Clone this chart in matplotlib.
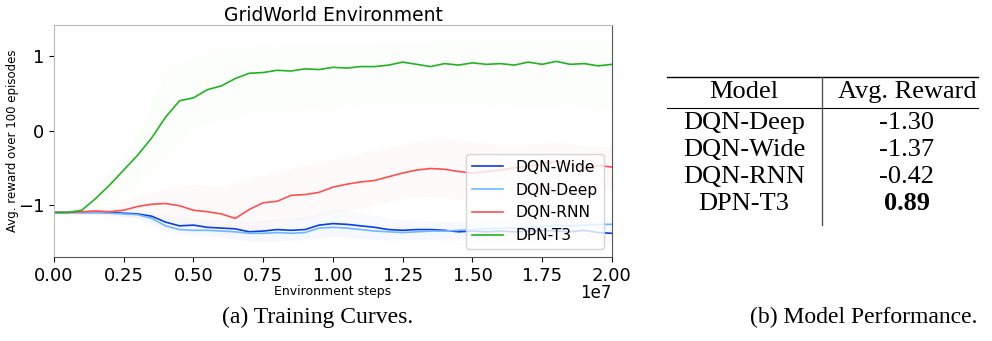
import matplotlib.pyplot as plt
import numpy as np

# environment steps (units of 1e6) for the mean curves and for the bands
steps = np.arange(0, 20.5, 0.5) * 1e6
band_steps = np.arange(0, 21, 1.0) * 1e6

dpn_t3 = [-1.10, -1.10, -1.07, -0.91, -0.73, -0.53, -0.33, -0.10, 0.18, 0.40,
          0.44, 0.55, 0.60, 0.70, 0.77, 0.78, 0.81, 0.80, 0.83, 0.82,
          0.85, 0.84, 0.86, 0.86, 0.88, 0.92, 0.89, 0.86, 0.90, 0.88,
          0.91, 0.89, 0.90, 0.88, 0.92, 0.89, 0.93, 0.89, 0.90, 0.87, 0.89]
dpn_t3_hi = [-1.08, -1.02, -0.55, -0.05, 0.80, 1.00, 1.08, 1.12, 1.15, 1.17, 1.17,
             1.16, 1.18, 1.18, 1.19, 1.19, 1.20, 1.20, 1.21, 1.20, 1.20]
dpn_t3_lo = [-1.12, -1.10, -0.98, -0.75, -0.30, 0.00, 0.15, 0.22, 0.28, 0.30, 0.32,
             0.35, 0.37, 0.38, 0.36, 0.37, 0.33, 0.35, 0.34, 0.32, 0.30]

dqn_rnn = [-1.10, -1.10, -1.09, -1.08, -1.09, -1.07, -1.02, -0.99, -0.98, -1.01,
           -1.07, -1.09, -1.12, -1.18, -1.06, -0.97, -0.95, -0.87, -0.86, -0.83,
           -0.76, -0.72, -0.69, -0.67, -0.62, -0.57, -0.53, -0.51, -0.52, -0.55,
           -0.57, -0.55, -0.53, -0.50, -0.48, -0.45, -0.41, -0.46, -0.50, -0.47, -0.49]
dqn_rnn_hi = [-1.08, -1.06, -1.02, -0.85, -0.78, -0.72, -0.75, -0.65, -0.55, -0.45, -0.38,
              -0.30, -0.22, -0.15, -0.10, -0.15, -0.18, -0.18, -0.15, -0.20, -0.22]
dqn_rnn_lo = [-1.12, -1.12, -1.16, -1.18, -1.20, -1.30, -1.40, -1.38, -1.25, -1.20, -1.10,
              -1.05, -0.95, -0.88, -0.90, -0.95, -0.90, -0.85, -0.80, -0.80, -0.78]

dqn_wide = [-1.10, -1.10, -1.10, -1.10, -1.10, -1.11, -1.12, -1.15, -1.23, -1.28,
            -1.27, -1.30, -1.31, -1.32, -1.36, -1.35, -1.33, -1.34, -1.33, -1.27,
            -1.25, -1.26, -1.28, -1.30, -1.33, -1.34, -1.33, -1.33, -1.34, -1.36,
            -1.35, -1.36, -1.35, -1.36, -1.35, -1.34, -1.35, -1.36, -1.34, -1.37, -1.38]
dqn_wide_hi = [-1.08, -1.08, -1.08, -1.07, -1.12, -1.18, -1.20, -1.22, -1.18, -1.15, -1.05,
               -1.10, -1.18, -1.20, -1.22, -1.22, -1.20, -1.22, -1.20, -1.22, -1.24]
dqn_wide_lo = [-1.12, -1.12, -1.13, -1.17, -1.35, -1.40, -1.43, -1.48, -1.48, -1.47, -1.42,
               -1.45, -1.47, -1.46, -1.47, -1.48, -1.48, -1.48, -1.49, -1.49, -1.50]

dqn_deep = [-1.10, -1.10, -1.10, -1.10, -1.11, -1.12, -1.13, -1.18, -1.28, -1.33,
            -1.34, -1.34, -1.35, -1.36, -1.38, -1.38, -1.37, -1.38, -1.37, -1.31,
            -1.30, -1.31, -1.33, -1.35, -1.36, -1.37, -1.36, -1.35, -1.35, -1.34,
            -1.33, -1.32, -1.31, -1.31, -1.30, -1.29, -1.27, -1.28, -1.27, -1.26, -1.26]
dqn_deep_hi = [-1.08, -1.08, -1.09, -1.08, -1.18, -1.24, -1.25, -1.28, -1.27, -1.22, -1.20,
               -1.24, -1.26, -1.25, -1.24, -1.22, -1.20, -1.19, -1.17, -1.16, -1.16]
dqn_deep_lo = [-1.12, -1.12, -1.13, -1.18, -1.38, -1.44, -1.45, -1.48, -1.48, -1.45, -1.42,
               -1.45, -1.47, -1.46, -1.45, -1.43, -1.42, -1.40, -1.38, -1.37, -1.36]

models = ['DQN-Deep', 'DQN-Wide', 'DQN-RNN', 'DPN-T3']
avg_rewards = ['-1.30', '-1.37', '-0.42', '0.89']

fig = plt.figure(figsize=(9.92, 3.41), dpi=100)
ax = fig.add_axes([0.0544, 0.246, 0.5625, 0.681])

series = [
    ('DQN-Wide', dqn_wide, dqn_wide_lo, dqn_wide_hi, '#0a3ee0', 0.025),
    ('DQN-Deep', dqn_deep, dqn_deep_lo, dqn_deep_hi, '#70b8ff', 0.025),
    ('DQN-RNN', dqn_rnn, dqn_rnn_lo, dqn_rnn_hi, '#ff5050', 0.025),
    ('DPN-T3', dpn_t3, dpn_t3_lo, dpn_t3_hi, '#22b322', 0.012),
]
for name, mean, lo, hi, col, a in series:
    ax.fill_between(band_steps, lo, hi, color=col, alpha=a, linewidth=0)
for name, mean, lo, hi, col, a in series:
    ax.plot(steps, mean, color=col, lw=1.2, label=name)

ax.set_xlim(0, 2e7)
ax.set_ylim(-1.70, 1.42)
ax.set_yticks([-1, 0, 1])
ax.tick_params(labelsize=13)
ax.xaxis.get_offset_text().set_visible(False)
ax.text(1.0, -0.155, '1e7', transform=ax.transAxes, ha='right', va='center', fontsize=12)
ax.set_title('GridWorld Environment', fontsize=13.5, pad=2)
ax.set_xlabel('Environment steps', fontsize=9, labelpad=0)
ax.set_ylabel('Avg. reward over 100 episodes', fontsize=8.5)
ax.yaxis.set_label_coords(-0.062, 0.5)
for s in ['left', 'top']:
    ax.spines[s].set_color('#bbbbbb')
for s in ['bottom', 'right']:
    ax.spines[s].set_color('#555555')
ax.legend(loc='lower right', fontsize=11.2, handlelength=2.0)

# table on the right
serif = 'Liberation Serif'
fs = 19
x1, x2 = 744 / 992, 907 / 992
fig.add_artist(plt.Line2D([667 / 992, 978 / 992], [1 - 77 / 341] * 2, color='black', lw=1))
fig.add_artist(plt.Line2D([667 / 992, 978 / 992], [1 - 108 / 341] * 2, color='black', lw=0.8))
fig.add_artist(plt.Line2D([822 / 992] * 2, [1 - 77 / 341, 1 - 225 / 341], color='#555555', lw=1))
fig.text(x1, 1 - 92 / 341, 'Model', family=serif, fontsize=fs, ha='center', va='center')
fig.text(x2, 1 - 92 / 341, 'Avg. Reward', family=serif, fontsize=fs, ha='center', va='center')
for i, (m, r) in enumerate(zip(models, avg_rewards)):
    y = 1 - (123 + 27 * i) / 341
    fig.text(x1, y, m, family=serif, fontsize=fs, ha='center', va='center')
    fig.text(x2, y, r, family=serif, fontsize=fs, ha='center', va='center',
             weight='bold' if m == 'DPN-T3' else 'normal')

fig.text(318 / 992, 1 - 317 / 341, '(a) Training Curves.', family=serif, fontsize=17,
         ha='center', va='center')
fig.text(864 / 992, 1 - 317 / 341, '(b) Model Performance.', family=serif, fontsize=17,
         ha='center', va='center')

fig.savefig('out.png', dpi=100)
